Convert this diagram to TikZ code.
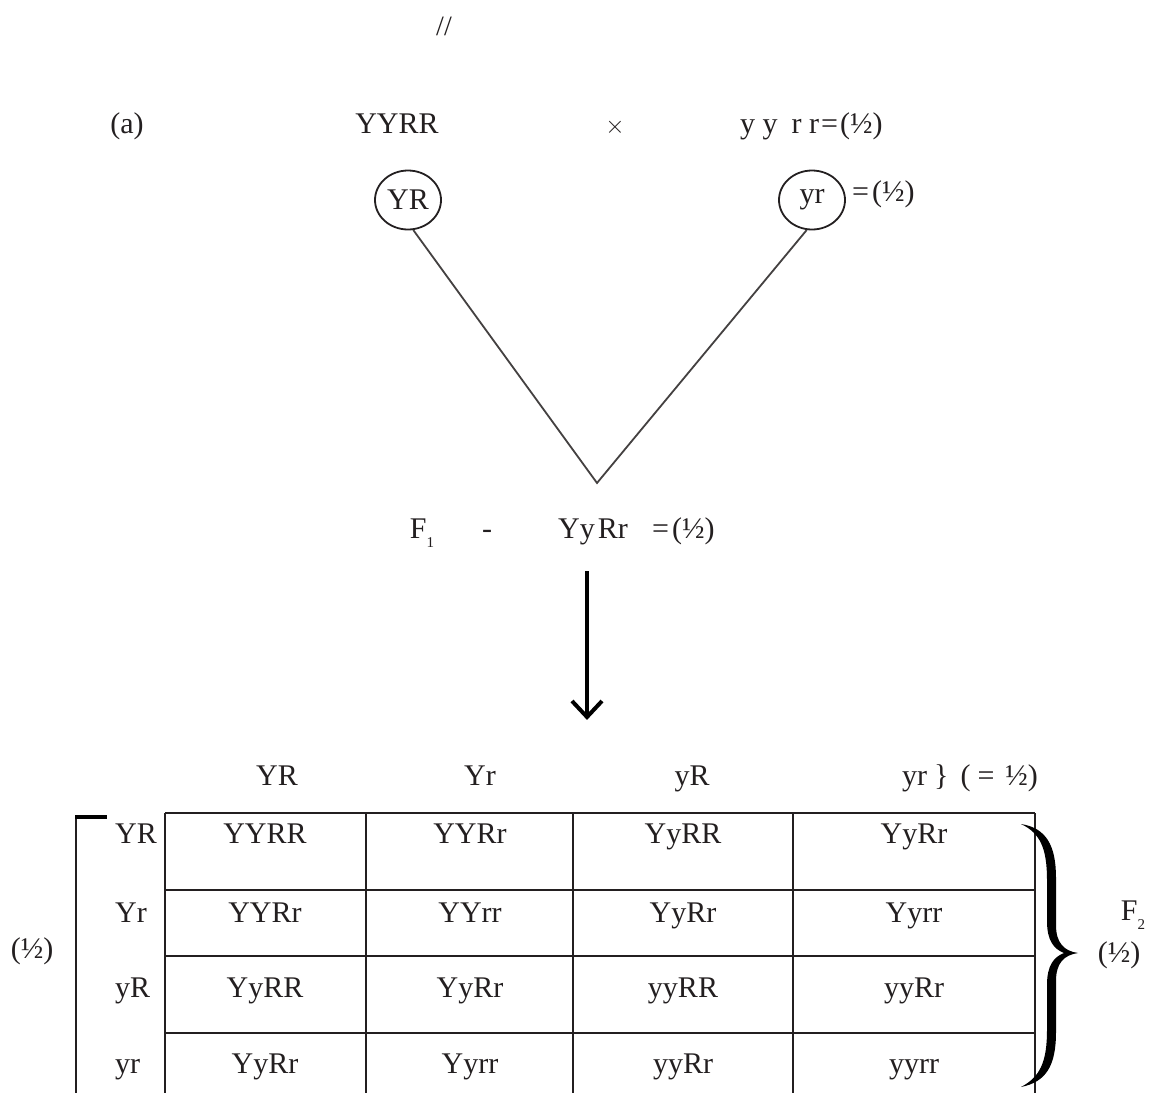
\documentclass[tikz,border=0pt]{standalone}
\usepackage{fontspec}
\setmainfont{Liberation Serif}
\usetikzlibrary{calc,shapes.geometric}
\definecolor{ink}{HTML}{231F20}
\newcommand{\lowsub}[1]{\raisebox{-0.32em}{\fontsize{15}{15}\selectfont #1}}
\begin{document}
\begin{tikzpicture}[x=1pt,y=-1pt,
  txt/.style={font=\fontsize{30}{36}\selectfont, anchor=base, inner sep=0pt, text=ink},
  txtw/.style={txt, anchor=base west},
  gam/.style={ellipse, draw=ink, line width=1.8pt, minimum width=66pt, minimum height=59pt, inner sep=0pt, text=ink, font=\fontsize{30}{36}\selectfont},
  vline/.style={draw=ink!85, line width=1.8pt},
  grid/.style={draw=ink, line width=2.6pt},
  arr/.style={draw=black, line width=4.5pt}]
\useasboundingbox (0,0) rectangle (1152,1093);
\fill[white] (0,0) rectangle (1152,1093);

% top mark
\node[txt, font=\fontsize{28}{32}\selectfont] (sl) at (444,35) {//};

% parents
\node[txt] (lbla) at (127,133) {(a)};
\node[txt] (p1) at (397,133) {YYRR};
\node[txt] (cross) at (615,133) {$\times$};
\node[txtw] (p2) at (740,133) {y y\hspace{14pt}r r\hspace{2pt}=\hspace{2pt}(½)};

% gametes
\node[gam] (gYR) at (408,200) {YR};
\node[gam] (gyr) at (812,200) {yr};
\node[txtw] (geq) at (852,201) {=\hspace{3pt}(½)};

% V lines
\coordinate (apex) at (597,483);
\draw[vline] (gYR.-80) -- (apex) -- (gyr.-100);

% F1
\node[txt] (f1) at (422,538) {F\lowsub{1}};
\node[txt] (dash) at (487,538) {-};
\node[txt] (f1g) at (593,538) {Yy\hspace{3pt}Rr};
\node[txtw] (f1eq) at (652,538) {=\hspace{3pt}(½)};

% arrow
\coordinate (as) at (587,571);
\coordinate (ae) at (587,717);
\draw[arr] (as) -- (ae);
\draw[draw=black, line width=4pt, miter limit=10] ($(ae)+(-15,-16)$) -- (ae) -- ($(ae)+(15,-16)$);

% header
\node[txt] (h1) at (277,785) {YR};
\node[txt] (h2) at (480,785) {Yr};
\node[txt] (h3) at (692,785) {yR};
\node[txtw] (h4) at (902,785) {yr\hspace{7pt}\}\hspace{12pt}(\hspace{7pt}=\hspace{11pt}½)};

% table grid
\draw[grid] (165,813) -- (1035,813);
\draw[grid] (165,890) -- (1035,890);
\draw[grid] (165,956) -- (1035,956);
\draw[grid] (165,1033) -- (1035,1033);
\foreach \x in {165,366,573,793,1035} \draw[grid] (\x,813) -- (\x,1093);

% row labels
\node[txtw] (r1) at (115,843) {YR};
\node[txtw] (r2) at (115,922) {Yr};
\node[txtw] (r3) at (115,997) {yR};
\node[txtw] (r4) at (115,1073) {yr};

% cells
\node[txt] (c11) at (265,843) {YYRR};
\node[txt] (c12) at (470,843) {YYRr};
\node[txt] (c13) at (683,843) {YyRR};
\node[txt] (c14) at (914,843) {YyRr};
\node[txt] (c21) at (265,922) {YYRr};
\node[txt] (c22) at (470,922) {YYrr};
\node[txt] (c23) at (683,922) {YyRr};
\node[txt] (c24) at (914,922) {Yyrr};
\node[txt] (c31) at (265,997) {YyRR};
\node[txt] (c32) at (470,997) {YyRr};
\node[txt] (c33) at (683,997) {yyRR};
\node[txt] (c34) at (914,997) {yyRr};
\node[txt] (c41) at (265,1073) {YyRr};
\node[txt] (c42) at (470,1073) {Yyrr};
\node[txt] (c43) at (683,1073) {yyRr};
\node[txt] (c44) at (914,1073) {yyrr};

% left bracket
\draw[draw=ink, line width=1.5pt] (76,817) -- (76,1093);
\draw[draw=black, line width=4pt] (75,817) -- (107,817);
\node[txt] (lh) at (32,958) {(½)};

% right brace
\fill[black] (1021,824) .. controls (1046,828) and (1056,845) .. (1056,878)
  -- (1056,925) .. controls (1056,943) and (1064,951) .. (1078,953)
  .. controls (1064,955) and (1056,963) .. (1056,981)
  -- (1056,1032) .. controls (1056,1066) and (1046,1082) .. (1021,1087)
  .. controls (1040,1077) and (1047,1062) .. (1047,1030)
  -- (1047,985) .. controls (1047,965) and (1054,957) .. (1064,953)
  .. controls (1054,949) and (1047,941) .. (1047,921)
  -- (1047,880) .. controls (1047,848) and (1040,833) .. (1021,824) -- cycle;
\node[txt] (f2) at (1133,920) {F\lowsub{2}};
\node[txt] (rh) at (1119,962) {(½)};
\end{tikzpicture}
\end{document}
